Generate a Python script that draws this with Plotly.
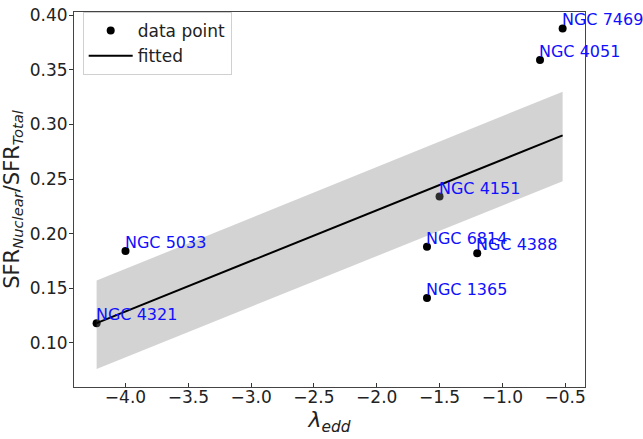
import plotly.graph_objects as go

# Data
names = ["NGC 4321", "NGC 5033", "NGC 4151", "NGC 6814", "NGC 4388", "NGC 1365", "NGC 4051", "NGC 7469"]
lam_edd = [-4.23, -4.0, -1.5, -1.6, -1.2, -1.6, -0.7, -0.52]
sfr_ratio = [0.118, 0.184, 0.234, 0.188, 0.182, 0.141, 0.359, 0.388]

fit_x = [-4.23, -0.52]
fit_y = [0.118, 0.290]
band_upper = [0.157, 0.330]
band_lower = [0.076, 0.248]

x_ticks = [-4.0, -3.5, -3.0, -2.5, -2.0, -1.5, -1.0, -0.5]
y_ticks = [0.10, 0.15, 0.20, 0.25, 0.30, 0.35, 0.40]

FONT = "DejaVu Sans"

fig = go.Figure()

fig.add_trace(go.Scatter(
    x=lam_edd, y=sfr_ratio, mode="markers", name="data point",
    marker=dict(color="black", size=8),
))

# confidence band (drawn over points like the original)
fig.add_trace(go.Scatter(
    x=fit_x + fit_x[::-1], y=band_upper + band_lower[::-1],
    fill="toself", fillcolor="rgba(128,128,128,0.35)",
    line=dict(width=0), mode="lines", showlegend=False, hoverinfo="skip",
))

fig.add_trace(go.Scatter(
    x=fit_x, y=fit_y, mode="lines", name="fitted",
    line=dict(color="black", width=2),
))

for n, x, y in zip(names, lam_edd, sfr_ratio):
    fig.add_annotation(
        x=x, y=y, text=n, showarrow=False, xanchor="left", yanchor="bottom",
        xshift=-3, yshift=-3, font=dict(family=FONT, size=16, color="#1010ff"),
    )

fig.update_layout(
    width=643, height=439,
    margin=dict(l=72, r=58, t=5, b=52),
    paper_bgcolor="white", plot_bgcolor="white",
    font=dict(family=FONT, color="#222222"),
    legend=dict(
        x=0.017, y=1.0, xanchor="left", yanchor="top",
        bordercolor="#d0d0d0", borderwidth=1, bgcolor="rgba(255,255,255,0.8)",
        font=dict(family=FONT, size=17, color="#222222"),
        tracegroupgap=0, itemwidth=44,
    ),
    showlegend=True,
)

fig.update_xaxes(
    range=[-4.41, -0.342],
    tickvals=x_ticks,
    ticktext=[f"{v:.1f}".replace("-", "\u2212") for v in x_ticks],
    ticks="inside", ticklen=4, tickcolor="#333",
    ticklabelstandoff=-5,
    showline=True, linecolor="#444", linewidth=1, mirror=True,
    showgrid=False, zeroline=False,
    tickfont=dict(family=FONT, size=17, color="#222"),
    title=dict(text="<i>λ</i><sub><i>edd</i></sub>", font=dict(family=FONT, size=22, color="#222"), standoff=5),
)
fig.update_yaxes(
    range=[0.0595, 0.403],
    tickvals=y_ticks,
    ticktext=[f"{v:.2f}" for v in y_ticks],
    ticks="outside", ticklen=4, tickcolor="#333",
    ticklabeloverflow="allow", ticklabelstandoff=-2,
    showline=True, linecolor="#444", linewidth=1, mirror=True,
    showgrid=False, zeroline=False,
    tickfont=dict(family=FONT, size=17, color="#222"),
    title=dict(text="SFR<sub><i>Nuclear</i></sub>/SFR<sub><i>Total</i></sub>", font=dict(family=FONT, size=21, color="#222"), standoff=10),
)

fig.write_html(
    "out.html",
    config={"displayModeBar": False},
    post_script="document.body.style.margin='0';document.body.style.overflow='hidden';",
)
